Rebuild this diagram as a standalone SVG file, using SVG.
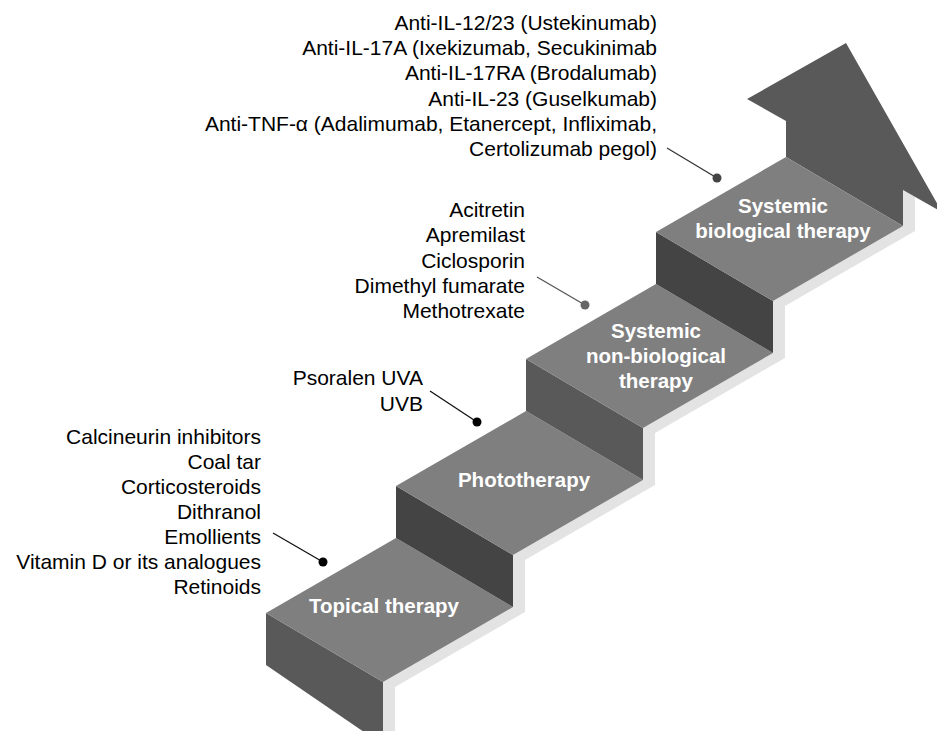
<svg xmlns="http://www.w3.org/2000/svg" width="937" height="731" viewBox="0 0 937 731">
<style>
.top{fill:#7f7f7f}
.frontA{fill:#595959}
.frontB{fill:#444444}
.shadow{fill:#e3e3e3}
.arrow{fill:#595959}
.lbl{font-family:"Liberation Sans",Arial,sans-serif;font-size:20.5px;font-weight:bold;fill:#ffffff;text-anchor:middle}
.txt{font-family:"Liberation Sans",Arial,sans-serif;font-size:21px;fill:#000000;text-anchor:end}
.ln{stroke-width:1.3;fill:none}
</style>
<rect width="937" height="731" fill="#ffffff"/>
<g id="shadow">
<polygon class="shadow" points="383,745 383,682 513,607 513,555 643,480 643,428 773,353 773,301 903,226 903,190 942,212 954,217 915,195 915,231 785,306 785,358 655,433 655,485 525,560 525,612 395,687 395,750"/>
</g>
<g id="step-topical">
<polygon class="frontA" points="266,613 383,682 383,745 266,665"/>
<polygon class="top" points="266,613 396,538 513,607 383,682"/>
<text class="lbl" x="384" y="613">Topical therapy</text>
</g>
<g id="step-photo">
<polygon class="frontB" points="396,486 513,555 513,607 396,538"/>
<polygon class="top" points="396,486 526,411 643,480 513,555"/>
<text class="lbl" x="524" y="487">Phototherapy</text>
</g>
<g id="step-nonbio">
<polygon class="frontA" points="526,359 643,428 643,480 526,411"/>
<polygon class="top" points="526,359 656,284 773,353 643,428"/>
<text class="lbl" x="656" y="338">Systemic</text>
<text class="lbl" x="656" y="363">non-biological</text>
<text class="lbl" x="656" y="388">therapy</text>
</g>
<g id="step-bio">
<polygon class="frontB" points="656,232 773,301 773,353 656,284"/>
<polygon class="arrow" points="786,157 786,121 747,99 846,43 942,212 903,190 903,226"/>
<polygon class="top" points="656,232 786,157 903,226 773,301"/>
<text class="lbl" x="783" y="213">Systemic</text>
<text class="lbl" x="783" y="238">biological therapy</text>
</g>
<g id="list-topical">
<text class="txt" x="261" y="444">Calcineurin inhibitors</text>
<text class="txt" x="261" y="469">Coal tar</text>
<text class="txt" x="261" y="494">Corticosteroids</text>
<text class="txt" x="261" y="519">Dithranol</text>
<text class="txt" x="261" y="544">Emollients</text>
<text class="txt" x="261" y="569">Vitamin D or its analogues</text>
<text class="txt" x="261" y="594">Retinoids</text>
</g>
<g id="list-photo">
<text class="txt" x="423" y="385">Psoralen UVA</text>
<text class="txt" x="423" y="411">UVB</text>
</g>
<g id="list-nonbio">
<text class="txt" x="525" y="217">Acitretin</text>
<text class="txt" x="525" y="242">Apremilast</text>
<text class="txt" x="525" y="268">Ciclosporin</text>
<text class="txt" x="525" y="293">Dimethyl fumarate</text>
<text class="txt" x="525" y="318">Methotrexate</text>
</g>
<g id="list-bio">
<text class="txt" x="657" y="30">Anti-IL-12/23 (Ustekinumab)</text>
<text class="txt" x="657" y="55">Anti-IL-17A (Ixekizumab, Secukinimab</text>
<text class="txt" x="657" y="80">Anti-IL-17RA (Brodalumab)</text>
<text class="txt" x="657" y="106">Anti-IL-23 (Guselkumab)</text>
<text class="txt" x="657" y="131">Anti-TNF-α (Adalimumab, Etanercept, Infliximab,</text>
<text class="txt" x="657" y="156">Certolizumab pegol)</text>
</g>
<g id="connectors">
<line class="ln" x1="273" y1="533" x2="323" y2="562" stroke="#111111"/>
<circle cx="323" cy="562" r="4.5" fill="#000000"/>
<line class="ln" x1="430" y1="391" x2="477" y2="422" stroke="#111111"/>
<circle cx="477" cy="422" r="4.5" fill="#000000"/>
<line class="ln" x1="537" y1="277" x2="585" y2="305" stroke="#555555"/>
<circle cx="585" cy="305" r="4.5" fill="#666666"/>
<line class="ln" x1="667" y1="148" x2="717" y2="178" stroke="#333333"/>
<circle cx="717" cy="178" r="4.5" fill="#444444"/>
</g>
</svg>
